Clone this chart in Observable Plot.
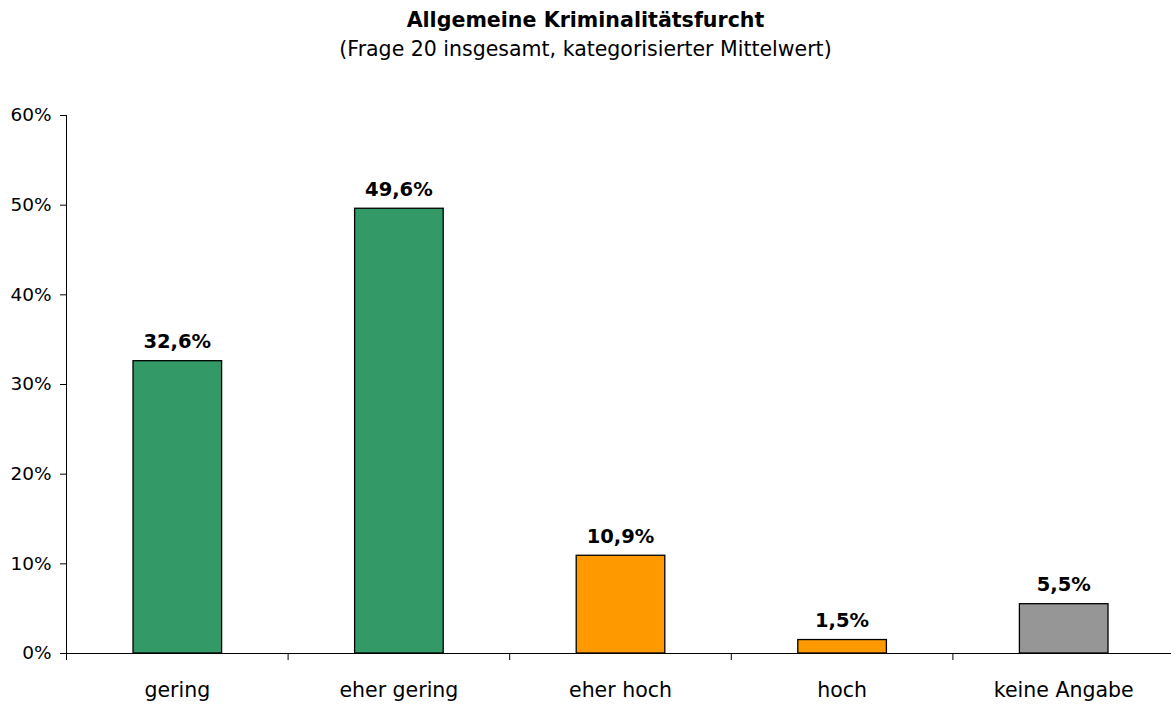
<!DOCTYPE html>
<html>
<head>
<meta charset="utf-8">
<script src="https://cdn.jsdelivr.net/npm/d3@7"></script>
<script src="https://cdn.jsdelivr.net/npm/@observablehq/plot@0.6"></script>
<style>
  html, body { margin: 0; padding: 0; background: #fff; }
  body { width: 1171px; height: 704px; overflow: hidden; font-family: "DejaVu Sans", sans-serif; color: #000; }
  #title { position: absolute; left: 0; width: 1171px; top: 7px; text-align: center; font-size: 20.6px; font-weight: bold; line-height: 26px; }
  #subtitle { position: absolute; left: 0; width: 1171px; top: 36px; text-align: center; font-size: 20.5px; line-height: 26px; }
  #chart { position: absolute; left: 0; top: 80px; }
</style>
</head>
<body>
<div id="title">Allgemeine Kriminalitätsfurcht</div>
<div id="subtitle">(Frage 20 insgesamt, kategorisierter Mittelwert)</div>
<div id="chart"></div>
<script>
const categories = ["gering", "eher gering", "eher hoch", "hoch", "keine Angabe"];
const values = [32.6, 49.6, 10.9, 1.5, 5.5];
const colors = ["#339966", "#339966", "#FF9900", "#FF9900", "#969696"];
const yTicks = [0, 10, 20, 30, 40, 50, 60];

const data = categories.map((c, i) => ({ cat: c, i, value: values[i], color: colors[i] }));
const fmt = v => v.toFixed(1).replace(".", ",") + "%";
const font = '"DejaVu Sans", sans-serif';

const chart = Plot.plot({
  width: 1171,
  height: 624,
  marginLeft: 66,
  marginRight: -3,
  marginTop: 35,
  marginBottom: 51,
  style: { fontFamily: font, fontSize: "18px", color: "#000", background: "#fff" },
  x: { type: "linear", domain: [0, categories.length], axis: null },
  y: { domain: [0, 60], axis: null },
  marks: [
    Plot.rectY(data, {
      x1: d => d.i, x2: d => d.i + 1, y1: 0, y2: "value",
      fill: d => d.color, stroke: "#000", strokeWidth: 1.3,
      insetLeft: 67, insetRight: 66
    }),
    Plot.axisY({ ticks: yTicks, tickFormat: d => d + "%", tickSize: 6, tickPadding: 9, fontSize: 18.5, stroke: "#000", label: null }),
    Plot.ruleX([0], { y1: 0, y2: 60, stroke: "#000", strokeWidth: 1 }),
    Plot.ruleY([0], { stroke: "#000", strokeWidth: 1 }),
    Plot.axisX({ ticks: d3.range(categories.length + 1), tickFormat: () => "", tickSize: 7, stroke: "#000", label: null }),
    Plot.text(data, { x: d => d.i + 0.5, y: 0, text: "cat", dy: 37, fontSize: 20.5, fill: "#000" }),
    Plot.text(data, { x: d => d.i + 0.5, y: "value", text: d => fmt(d.value), dy: -19, fontSize: 19.5, fontWeight: "bold", fill: "#000" })
  ]
});
document.getElementById("chart").appendChild(chart);
</script>
</body>
</html>
